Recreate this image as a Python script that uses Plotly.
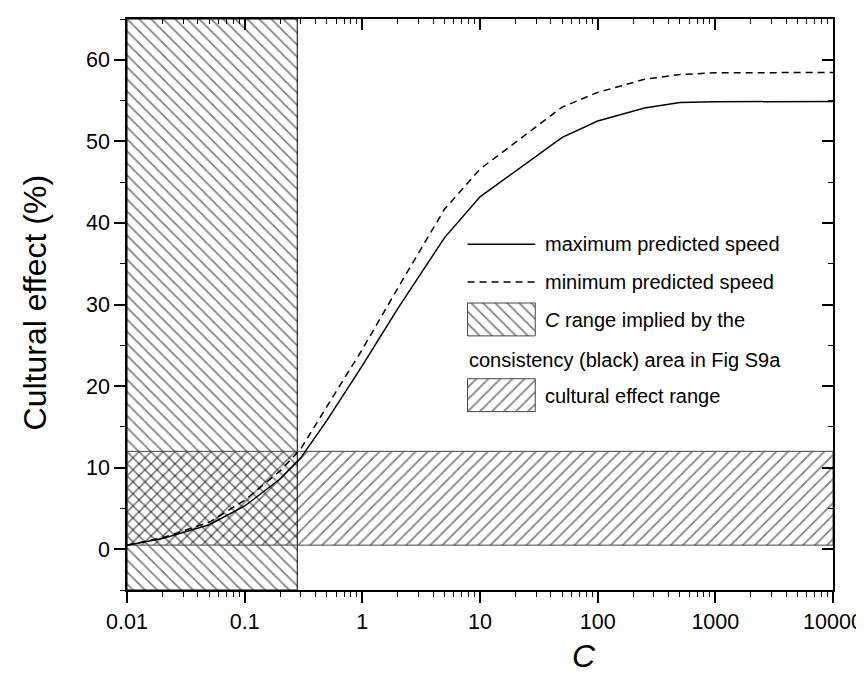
import plotly.graph_objects as go

# ---------------- data ----------------
c_vals = [0.01, 0.02, 0.05, 0.1, 0.2, 0.3, 0.5, 1, 2, 5, 10, 50, 100, 250, 500, 1000, 10000]
max_speed = [0.5, 1.3, 3.0, 5.3, 8.6, 11.2, 15.8, 22.5, 29.5, 38.2, 43.2, 50.5, 52.5, 54.1, 54.75, 54.85, 54.9]
min_speed = [0.5, 1.4, 3.3, 6.0, 9.6, 12.3, 17.5, 24.5, 32.0, 41.7, 46.6, 54.2, 56.0, 57.6, 58.2, 58.4, 58.45]

c_range = [0.01, 0.28]          # C range implied by consistency area
effect_range = [0.5, 12.0]      # cultural effect range
x_limits = [0.01, 10000]
y_limits = [-5, 65]

x_tickvals = [0.01, 0.1, 1, 10, 100, 1000, 10000]
x_ticktext = ["0.01", "0.1", "1", "10", "100", "1000", "10000"]
y_tickvals = [0, 10, 20, 30, 40, 50, 60]

legend_labels = ["maximum predicted speed", "minimum predicted speed",
                 "<i>C</i> range implied by the", "consistency (black) area in Fig S9a",
                 "cultural effect range"]

# ---------------- layout helpers ----------------
W, H = 864, 673
L, R, T, B = 119, 828, 9, 582
FONT = "Liberation Sans, Arial, sans-serif"


def px_x(px):
    return (px - L) / (R - L)


def px_y(py):
    return (B - py) / (B - T)


fig = go.Figure()

pat_back = dict(shape="\\", size=8.5, solidity=0.2, fgcolor="black", bgcolor="rgba(0,0,0,0)")
pat_fwd = dict(shape="/", size=8.5, solidity=0.2, fgcolor="black", bgcolor="rgba(0,0,0,0)")

# C range band (vertical)
fig.add_trace(go.Scatter(
    x=[c_range[0], c_range[1], c_range[1], c_range[0], c_range[0]],
    y=[y_limits[0], y_limits[0], y_limits[1], y_limits[1], y_limits[0]],
    mode="lines", fill="toself", fillcolor="rgba(0,0,0,0)", fillpattern=pat_back,
    line=dict(color="black", width=1), showlegend=False, hoverinfo="skip"))

# cultural effect band (horizontal)
fig.add_trace(go.Scatter(
    x=[x_limits[0], x_limits[1], x_limits[1], x_limits[0], x_limits[0]],
    y=[effect_range[0], effect_range[0], effect_range[1], effect_range[1], effect_range[0]],
    mode="lines", fill="toself", fillcolor="rgba(0,0,0,0)", fillpattern=pat_fwd,
    line=dict(color="rgb(70,70,70)", width=1), showlegend=False, hoverinfo="skip"))

# curves
fig.add_trace(go.Scatter(x=c_vals, y=max_speed, mode="lines",
                         line=dict(color="black", width=1.5), showlegend=False))
fig.add_trace(go.Scatter(x=c_vals, y=min_speed, mode="lines",
                         line=dict(color="black", width=1.5, dash="7px,5px"), showlegend=False))

# empty trace to create mirrored (inward tick) top/right axes
fig.add_trace(go.Scatter(x=[], y=[], xaxis="x2", yaxis="y2", showlegend=False))

# ---------------- custom legend (paper-like inset axes) ----------------
lx0, lx1 = px_x(461), px_x(529)
fig.add_trace(go.Scatter(x=[lx0, lx1], y=[px_y(235)] * 2, xaxis="x3", yaxis="y3", mode="lines",
                         line=dict(color="black", width=1.5), showlegend=False, hoverinfo="skip"))
fig.add_trace(go.Scatter(x=[lx0, lx1], y=[px_y(273)] * 2, xaxis="x3", yaxis="y3", mode="lines",
                         line=dict(color="black", width=1.5, dash="7px,5px"), showlegend=False,
                         hoverinfo="skip"))
for (ytop, ybot, pat) in [(294, 327, pat_back), (370, 403, pat_fwd)]:
    fig.add_trace(go.Scatter(
        x=[lx0, lx1, lx1, lx0, lx0],
        y=[px_y(ybot), px_y(ybot), px_y(ytop), px_y(ytop), px_y(ybot)],
        xaxis="x3", yaxis="y3", mode="lines", fill="toself", fillcolor="rgba(0,0,0,0)",
        fillpattern=pat, line=dict(color="rgb(70,70,70)", width=1), showlegend=False,
        hoverinfo="skip"))

annotations = []
for text, xpx, ypx in [(legend_labels[0], 537, 235), (legend_labels[1], 537, 273),
                       (legend_labels[2], 537, 311), (legend_labels[3], 460, 351),
                       (legend_labels[4], 537, 387)]:
    annotations.append(dict(text=text, x=px_x(xpx), y=px_y(ypx), xref="paper", yref="paper",
                            xanchor="left", yanchor="middle", showarrow=False,
                            font=dict(family=FONT, size=20, color="black")))

# axis titles
annotations.append(dict(text="<i>C</i>", x=px_x(578), y=px_y(648), xref="paper", yref="paper",
                        xanchor="center", yanchor="middle", showarrow=False,
                        font=dict(family=FONT, size=32, color="black")))
annotations.append(dict(text="Cultural effect (%)", x=px_x(27), y=px_y(293), xref="paper",
                        yref="paper", xanchor="center", yanchor="middle", showarrow=False,
                        textangle=-90, font=dict(family=FONT, size=32, color="black")))

axis_common = dict(showgrid=False, zeroline=False, linecolor="black", linewidth=1.5,
                   tickcolor="black", tickwidth=1.5, tickfont=dict(family=FONT, size=21.5, color="black"))

fig.update_layout(
    width=W, height=H,
    margin=dict(l=L, r=W - R, t=T, b=H - B, pad=0),
    plot_bgcolor="white", paper_bgcolor="white",
    showlegend=False,
    xaxis=dict(type="log", range=[-2, 4], tickmode="array", tickvals=x_tickvals, ticktext=x_ticktext,
               ticks="outside", ticklen=11, showline=True, mirror=True,
               minor=dict(ticks="outside", ticklen=5, dtick="D1", tickcolor="black", tickwidth=1.2),
               **axis_common),
    yaxis=dict(range=y_limits, tickmode="array", tickvals=y_tickvals,
               ticks="outside", ticklen=11, showline=True, mirror=True,
               minor=dict(ticks="outside", ticklen=5, dtick=5, tick0=0, tickcolor="black", tickwidth=1.2),
               **axis_common),
    xaxis2=dict(type="log", range=[-2, 4], overlaying="x", side="top", anchor="y2",
                showticklabels=False, ticks="inside", ticklen=11, tickmode="array", tickvals=x_tickvals,
                minor=dict(ticks="inside", ticklen=5, dtick="D1", tickcolor="black", tickwidth=1.2),
                showline=False, showgrid=False, zeroline=False, tickcolor="black", tickwidth=1.5),
    yaxis2=dict(range=y_limits, overlaying="y", side="right", anchor="x2",
                showticklabels=False, ticks="inside", ticklen=11, tickmode="array", tickvals=y_tickvals,
                minor=dict(ticks="inside", ticklen=5, dtick=5, tick0=0, tickcolor="black", tickwidth=1.2),
                showline=False, showgrid=False, zeroline=False, tickcolor="black", tickwidth=1.5),
    xaxis3=dict(range=[0, 1], overlaying="x", anchor="y3", visible=False),
    yaxis3=dict(range=[0, 1], overlaying="y", anchor="x3", visible=False),
    annotations=annotations,
)

fig.write_html("out.html")
